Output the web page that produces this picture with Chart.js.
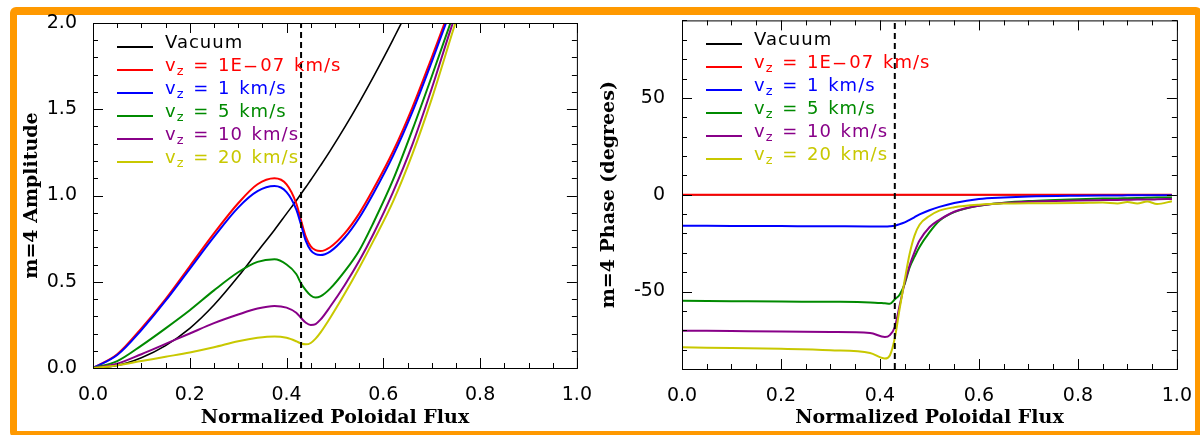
<!DOCTYPE html>
<html>
<head>
<meta charset="utf-8">
<script src="https://cdn.jsdelivr.net/npm/chart.js@4.4.1/dist/chart.umd.min.js"></script>
<style>
  html, body { margin: 0; padding: 0; background: #fff; }
  body { width: 1200px; height: 435px; position: relative; overflow: hidden; font-family: "DejaVu Sans", sans-serif; }
  .frame { position: absolute; left: 10px; top: 7px; right: -2px; bottom: -3px; border: 7px solid #ff9900; border-top-width: 8px; border-radius: 6px; }
  .panel { position: absolute; top: 0; width: 600px; height: 435px; }
  .panel canvas { position: absolute; left: 0; top: 0; }
  .legend { position: absolute; font-size: 18px; letter-spacing: 1px; word-spacing: 2px; white-space: pre; }
  .legend .row { height: 23px; line-height: 23px; }
  .legend .swatch { display: inline-block; width: 36px; height: 2px; margin-right: 12px; vertical-align: baseline; }
  .legend sub { font-size: 0.72em; line-height: 0; vertical-align: -0.3em; }
  .legend .dash { display: inline-block; transform: scaleX(2.4); margin: 0 5px; }
</style>
</head>
<body>
<div class="frame"></div>
<div class="panel" style="left:0"><canvas id="ampChart" width="600" height="435"></canvas><div class="legend" id="ampLegend"></div></div>
<div class="panel" style="left:600px"><canvas id="phaseChart" width="600" height="435"></canvas><div class="legend" id="phaseLegend"></div></div>
<script>
// Series names and colours (IDL-style)
const speeds = ['1E-07', '1', '5', '10', '20'];
const colors = ['#000000', '#ff0000', '#0000ff', '#008a00', '#880088', '#c8c800'];
const separatrix = 0.43;

// Tick labels
const fluxTicks = [0, 0.2, 0.4, 0.6, 0.8, 1.0];
const ampTicks = [0, 0.5, 1.0, 1.5, 2.0];
const phaseTicks = [-50, 0, 50];

// Left panel: m=4 amplitude
const fluxAmp = [0, 0.05, 0.1, 0.15, 0.2, 0.25, 0.3, 0.34, 0.375, 0.4, 0.42, 0.43, 0.44, 0.45, 0.46, 0.47, 0.49, 0.52, 0.55, 0.58, 0.62, 0.66, 0.7, 0.74, 0.78];
const ampVacuum = [0, 0.015, 0.06, 0.13, 0.23, 0.365, 0.53, 0.675, 0.8, 0.895, 0.97, 1.01, 1.049, 1.09, 1.131, 1.173, 1.259, 1.395, 1.539, 1.691, 1.904, 2.132, 2.4, 2.65, 2.9];
const ampV1e7 = [0, 0.08, 0.23, 0.40, 0.59, 0.78, 0.955, 1.065, 1.10, 1.065, 0.955, 0.855, 0.76, 0.705, 0.683, 0.678, 0.70, 0.78, 0.895, 1.04, 1.255, 1.51, 1.80, 2.10, 2.40];
const ampV1 = [0, 0.075, 0.22, 0.39, 0.575, 0.76, 0.93, 1.025, 1.055, 1.02, 0.92, 0.83, 0.735, 0.682, 0.66, 0.655, 0.675, 0.755, 0.87, 1.015, 1.23, 1.485, 1.775, 2.08, 2.38];
const ampV5 = [0, 0.04, 0.13, 0.23, 0.335, 0.45, 0.555, 0.615, 0.63, 0.60, 0.545, 0.49, 0.45, 0.42, 0.408, 0.415, 0.46, 0.56, 0.68, 0.845, 1.09, 1.38, 1.69, 2.01, 2.34];
const ampV10 = [0, 0.025, 0.08, 0.14, 0.20, 0.26, 0.31, 0.345, 0.36, 0.35, 0.32, 0.29, 0.262, 0.25, 0.255, 0.28, 0.355, 0.48, 0.62, 0.78, 1.02, 1.295, 1.62, 1.97, 2.30];
const ampV20 = [0, 0.015, 0.04, 0.065, 0.09, 0.12, 0.155, 0.175, 0.183, 0.175, 0.155, 0.142, 0.137, 0.145, 0.17, 0.205, 0.29, 0.43, 0.58, 0.74, 0.965, 1.24, 1.56, 1.92, 2.28];

// Right panel: m=4 phase
const fluxPhase = [0, 0.1, 0.2, 0.3, 0.38, 0.41, 0.42, 0.43, 0.44, 0.45, 0.46, 0.47, 0.48, 0.5, 0.52, 0.55, 0.6, 0.65, 0.7, 0.8, 0.85, 0.88, 0.9, 0.92, 0.94, 0.96, 0.99];
const phVacuum = [0, 0, 0, 0, 0, 0, 0, 0, 0, 0, 0, 0, 0, 0, 0, 0, 0, 0, 0, 0, 0, 0, 0, 0, 0, 0, 0];
const phV1e7 = [0, 0, 0, 0, 0, 0, 0, 0, 0, 0, 0, 0, 0, 0, 0, 0, 0, 0, 0, 0, 0, 0, 0, 0, 0, 0, 0];
const phV1 = [-16.0, -16.1, -16.2, -16.3, -16.4, -16.4, -16.3, -16.0, -15.2, -14.3, -13.0, -11.6, -10.2, -8.0, -6.3, -4.3, -2.2, -1.4, -0.9, -0.5, -0.4, -0.4, -0.3, -0.3, -0.3, -0.3, -0.3];
const phV5 = [-54.8, -55.0, -55.2, -55.3, -55.6, -56.1, -56.3, -54.0, -51.5, -46.0, -37.5, -32.0, -27.0, -19.5, -13.5, -9.0, -5.7, -4.2, -3.3, -2.3, -2.0, -1.9, -1.8, -1.7, -1.6, -1.5, -1.4];
const phV10 = [-70.2, -70.4, -70.6, -70.9, -71.4, -73.5, -72.5, -68.3, -57.0, -45.5, -36.5, -29.5, -23.7, -16.8, -13.0, -8.8, -5.7, -4.3, -3.6, -3.0, -2.8, -2.7, -2.6, -2.5, -2.5, -2.4, -2.2];
const phV20 = [-78.8, -79.2, -79.6, -80.3, -81.7, -84.6, -83.0, -74.0, -58.5, -44.0, -30.5, -21.0, -15.5, -11.0, -8.2, -6.5, -5.2, -4.6, -4.4, -4.3, -4.0, -4.5, -3.8, -4.6, -3.5, -4.8, -3.4];

const pts = (xs, ys) => xs.map((x, i) => ({ x, y: ys[i] }));

function buildDatasets(xs, series, yMin, yMax) {
  const sets = series.map((ys, i) => ({
    label: i === 0 ? 'Vacuum' : `vz = ${speeds[i - 1]} km/s`,
    legendHtml: i === 0 ? 'Vacuum'
      : `v<sub>z</sub> = ${speeds[i - 1].replace('-', '<span class="dash">-</span>')} km/s`,
    data: pts(xs, ys),
    borderColor: colors[i],
    borderWidth: i === 0 ? 1.6 : 2,
    pointRadius: 0,
    cubicInterpolationMode: 'monotone',
    order: series.length - i,
  }));
  // separatrix marker
  sets.push({
    label: 'separatrix',
    data: [{ x: separatrix, y: yMin }, { x: separatrix, y: yMax }],
    borderColor: '#000',
    borderWidth: 2,
    borderDash: [6, 4],
    pointRadius: 0,
    order: 0,
  });
  return sets;
}

// inward IDL-style ticks on all four sides + box
const frameTicks = {
  id: 'frameTicks',
  afterDatasetsDraw(chart, args, opts) {
    const { ctx, chartArea: a, scales: { x, y } } = chart;
    ctx.save();
    ctx.strokeStyle = '#000';
    ctx.lineWidth = 1;
    ctx.strokeRect(a.left + 0.5, a.top + 0.5, a.width, a.height);
    const drawAxis = (scale, minor, major, horiz) => {
      const n = Math.round((scale.max - scale.min) / minor);
      for (let k = 0; k <= n; k++) {
        const v = scale.min + k * minor;
        const r = v / major;
        const len = Math.abs(r - Math.round(r)) < 1e-6 ? 10 : 5;
        const p = Math.round(scale.getPixelForValue(v)) + 0.5;
        ctx.beginPath();
        if (horiz) {
          ctx.moveTo(p, a.bottom); ctx.lineTo(p, a.bottom - len);
          ctx.moveTo(p, a.top); ctx.lineTo(p, a.top + len);
        } else {
          ctx.moveTo(a.left, p); ctx.lineTo(a.left + len, p);
          ctx.moveTo(a.right, p); ctx.lineTo(a.right - len, p);
        }
        ctx.stroke();
      }
    };
    drawAxis(x, opts.xMinor, opts.xMajor, true);
    drawAxis(y, opts.yMinor, opts.yMajor, false);
    ctx.restore();
  }
};

// legend inside the plot, built from the datasets
const htmlLegend = {
  id: 'htmlLegend',
  afterUpdate(chart, args, opts) {
    const box = document.getElementById(opts.containerID);
    const a = chart.chartArea;
    box.style.left = (a.left + 24) + 'px';
    box.style.top = (a.top + opts.dy) + 'px';
    box.innerHTML = '';
    chart.data.datasets.filter(d => d.legendHtml).forEach(d => {
      const row = document.createElement('div');
      row.className = 'row';
      row.style.color = d.borderColor;
      row.innerHTML = `<span class="swatch" style="background:${d.borderColor}"></span>${d.legendHtml}`;
      box.appendChild(row);
    });
  }
};

Chart.defaults.color = '#000';
Chart.defaults.font.family = '"DejaVu Sans", sans-serif';

const titleFont = { family: '"DejaVu Serif", serif', size: 19, weight: 'bold' };
const tickFont = { size: 19 };

function makeChart(id, cfg) {
  return new Chart(document.getElementById(id), {
    type: 'line',
    data: { datasets: buildDatasets(cfg.xs, cfg.series, cfg.yMin, cfg.yMax) },
    options: {
      responsive: false,
      animation: false,
      devicePixelRatio: 1,
      layout: { padding: { left: 0, top: cfg.top, right: 22, bottom: 0 } },
      plugins: {
        legend: { display: false },
        tooltip: { enabled: false },
        frameTicks: cfg.ticks,
        htmlLegend: { containerID: cfg.legendId, dy: 7 },
      },
      scales: {
        x: {
          type: 'linear', min: 0, max: 1,
          grid: { display: false }, border: { display: false },
          afterBuildTicks: s => { s.ticks = fluxTicks.map(value => ({ value })); },
          afterFit: s => { s.height = 435 - cfg.top - cfg.plotH; },
          ticks: { font: tickFont, padding: 8, maxRotation: 0, callback: v => v.toFixed(1) },
          title: { display: true, text: 'Normalized Poloidal Flux', font: titleFont, padding: { top: 0, bottom: 6 } },
        },
        y: {
          type: 'linear', min: cfg.yMin, max: cfg.yMax,
          grid: { display: false }, border: { display: false },
          afterBuildTicks: s => { s.ticks = cfg.yTicks.map(value => ({ value })); },
          afterFit: s => { s.width = cfg.yWidth; },
          ticks: { font: tickFont, padding: cfg.yPad, callback: cfg.yFmt },
          title: { display: true, text: cfg.yTitle, font: titleFont, padding: { top: cfg.titlePad, bottom: 0 } },
        },
      },
    },
    plugins: [frameTicks, htmlLegend],
  });
}

makeChart('ampChart', {
  xs: fluxAmp,
  series: [ampVacuum, ampV1e7, ampV1, ampV5, ampV10, ampV20],
  yMin: 0, yMax: 2, yTicks: ampTicks, yFmt: v => v.toFixed(1),
  yTitle: 'm=4 Amplitude', titlePad: 21, yWidth: 93, yPad: 8,
  top: 23, plotH: 345, legendId: 'ampLegend',
  ticks: { xMinor: 0.05, xMajor: 0.2, yMinor: 0.1, yMajor: 0.5 },
});

makeChart('phaseChart', {
  xs: fluxPhase,
  series: [phVacuum, phV1e7, phV1, phV5, phV10, phV20],
  yMin: -90, yMax: 90, yTicks: phaseTicks, yFmt: v => String(v),
  yTitle: 'm=4 Phase (degrees)', titlePad: -2, yWidth: 82, yPad: 9,
  top: 19, plotH: 350, legendId: 'phaseLegend',
  ticks: { xMinor: 0.05, xMajor: 0.2, yMinor: 10, yMajor: 50 },
});
</script>
</body>
</html>
